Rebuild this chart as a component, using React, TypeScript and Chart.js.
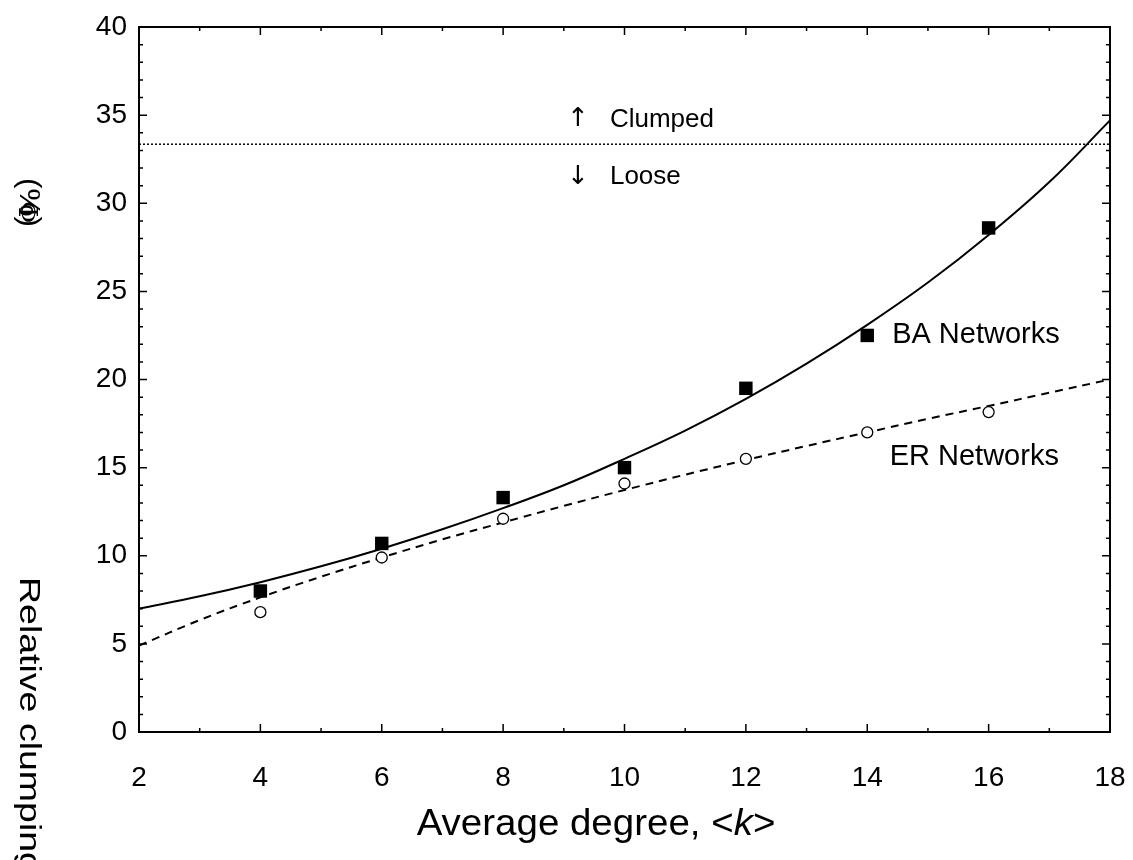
import React, { useEffect, useRef } from "react";
import { Chart, registerables } from "chart.js";

Chart.register(...registerables);

const degrees = [4, 6, 8, 10, 12, 14, 16];
const baValues = [8.0, 10.7, 13.3, 15.0, 19.5, 22.5, 28.6];
const erValues = [6.8, 9.9, 12.1, 14.1, 15.5, 17.0, 18.15];

const fitDegrees = [2, 3, 4, 5, 6, 7, 8, 9, 10, 11, 12, 13, 14, 15, 16, 17, 18];
const baFit = [7.0, 7.7, 8.5, 9.4, 10.4, 11.5, 12.7, 14.0, 15.5, 17.1, 18.9, 20.9, 23.1, 25.5, 28.2, 31.2, 34.7];
const erFit = [4.9, 6.35, 7.64, 8.81, 9.9, 10.93, 11.89, 12.83, 13.73, 14.6, 15.43, 16.23, 17.0, 17.77, 18.5, 19.25, 20.0];

const thresholdX = [2, 18];
const thresholdY = [33.35, 33.35];

const xTicks = [2, 4, 6, 8, 10, 12, 14, 16, 18];
const yTicks = [0, 5, 10, 15, 20, 25, 30, 35, 40];

const FONT = "'Liberation Sans', Arial, sans-serif";

function stretchedText(ctx: any, text: string, x: number, y: number, sx: number) {
  ctx.save();
  ctx.translate(x, y);
  ctx.scale(sx, 1);
  ctx.fillText(text, 0, 0);
  ctx.restore();
}

const framePlugin = {
  id: "frameAndText",
  afterDraw(chart: any) {
    const { ctx, chartArea: a, scales } = chart;
    const xs = scales.x;
    const ys = scales.y;
    ctx.save();
    ctx.strokeStyle = "#000";
    ctx.lineWidth = 2;
    ctx.strokeRect(a.left, a.top, a.right - a.left, a.bottom - a.top);
    ctx.lineWidth = 1.5;
    for (let v = 2; v <= 18; v++) {
      const px = xs.getPixelForValue(v);
      const len = v % 2 === 0 ? 8 : 4;
      ctx.beginPath();
      ctx.moveTo(px, a.bottom);
      ctx.lineTo(px, a.bottom - len);
      ctx.moveTo(px, a.top);
      ctx.lineTo(px, a.top + len);
      ctx.stroke();
    }
    for (let v = 0; v <= 40; v++) {
      const py = ys.getPixelForValue(v);
      const len = v % 5 === 0 ? 8 : 4;
      ctx.beginPath();
      ctx.moveTo(a.left, py);
      ctx.lineTo(a.left + len, py);
      ctx.moveTo(a.right, py);
      ctx.lineTo(a.right - len, py);
      ctx.stroke();
    }
    // annotations
    ctx.fillStyle = "#000";
    ctx.textBaseline = "middle";
    ctx.textAlign = "center";
    ctx.font = `26px 'DejaVu Sans', sans-serif`;
    ctx.fillText("\u2191", xs.getPixelForValue(9.23), ys.getPixelForValue(34.75));
    ctx.fillText("\u2193", xs.getPixelForValue(9.23), ys.getPixelForValue(31.5));
    ctx.textAlign = "left";
    ctx.font = `26px ${FONT}`;
    ctx.fillText("Clumped", xs.getPixelForValue(9.76), ys.getPixelForValue(34.75));
    ctx.fillText("Loose", xs.getPixelForValue(9.76), ys.getPixelForValue(31.5));
    ctx.font = `29px ${FONT}`;
    ctx.fillText("BA Networks", xs.getPixelForValue(14.41), ys.getPixelForValue(22.55));
    ctx.fillText("ER Networks", xs.getPixelForValue(14.37), ys.getPixelForValue(15.6));

    // x title
    const S = 1.04;
    const FS = 37;
    const t1 = "Average degree, <";
    const t2 = "k";
    const t3 = ">";
    ctx.font = `${FS}px ${FONT}`;
    const w1 = ctx.measureText(t1).width * S;
    const w3 = ctx.measureText(t3).width * S;
    ctx.font = `italic ${FS}px ${FONT}`;
    const w2 = ctx.measureText(t2).width * S;
    const total = w1 + w2 + w3;
    const sx = 596 - total / 2;
    const ty = 825;
    ctx.font = `${FS}px ${FONT}`;
    stretchedText(ctx, t1, sx, ty, S);
    ctx.font = `italic ${FS}px ${FONT}`;
    stretchedText(ctx, t2, sx + w1, ty, S);
    ctx.font = `${FS}px ${FONT}`;
    stretchedText(ctx, t3, sx + w1 + w2, ty, S);

    // y title (rotated clockwise, stretched along reading direction)
    ctx.save();
    ctx.translate(20, 577);
    ctx.rotate(Math.PI / 2);
    ctx.scale(1.25, 1);
    ctx.font = `30px ${FONT}`;
    ctx.textBaseline = "alphabetic";
    ctx.fillText("Relative clumping, ", 0, 0);
    ctx.restore();

    ctx.save();
    ctx.translate(20, 178);
    ctx.rotate(Math.PI / 2);
    ctx.scale(1.05, 1);
    ctx.font = `30px ${FONT}`;
    ctx.textBaseline = "alphabetic";
    ctx.fillText("(%)", 0, 0);
    ctx.font = `26px 'DejaVu Serif', serif`;
    ctx.fillText("\u03a6", 22, 1);
    ctx.restore();

    ctx.restore();
  },
};

export default function App() {
  const ref = useRef<HTMLCanvasElement | null>(null);
  useEffect(() => {
    document.body.style.margin = "0";
    const canvas = ref.current;
    if (!canvas) return;
    const chart = new Chart(canvas, {
      type: "scatter",
      data: {
        datasets: [
          {
            data: degrees.map((x, i) => ({ x, y: baValues[i] })),
            pointStyle: "rect",
            pointRadius: 9.5,
            backgroundColor: "#000",
            borderColor: "#000",
            borderWidth: 0,
            showLine: false,
            order: 0,
          },
          {
            data: degrees.map((x, i) => ({ x, y: erValues[i] })),
            pointStyle: "circle",
            pointRadius: 5.5,
            backgroundColor: "#fff",
            borderColor: "#000",
            borderWidth: 1.3,
            showLine: false,
            order: 1,
          },
          {
            data: fitDegrees.map((x, i) => ({ x, y: baFit[i] })),
            showLine: true,
            pointRadius: 0,
            borderColor: "#000",
            borderWidth: 2,
            tension: 0.4,
            fill: false,
            order: 3,
          },
          {
            data: fitDegrees.map((x, i) => ({ x, y: erFit[i] })),
            showLine: true,
            pointRadius: 0,
            borderColor: "#000",
            borderWidth: 2,
            borderDash: [8, 6],
            tension: 0.4,
            fill: false,
            order: 4,
          },
          {
            data: thresholdX.map((x, i) => ({ x, y: thresholdY[i] })),
            showLine: true,
            pointRadius: 0,
            borderColor: "#000",
            borderWidth: 1.5,
            borderDash: [2, 2],
            fill: false,
            order: 5,
          },
        ],
      },
      options: {
        responsive: false,
        animation: false,
        events: [],
        layout: { padding: { top: 27, right: 23, left: 0, bottom: 0 } },
        plugins: {
          legend: { display: false },
          tooltip: { enabled: false },
          title: { display: false },
        },
        scales: {
          x: {
            type: "linear",
            min: 2,
            max: 18,
            afterFit: (s: any) => {
              s.height = 128;
              s.paddingLeft = 0;
              s.paddingRight = 0;
            },
            afterBuildTicks: (s: any) => {
              s.ticks = xTicks.map((v) => ({ value: v }));
            },
            grid: { display: false, drawTicks: false },
            border: { display: false },
            ticks: {
              color: "#000",
              font: { size: 28, family: FONT },
              padding: 29,
              maxRotation: 0,
            },
          },
          y: {
            type: "linear",
            min: 0,
            max: 40,
            afterFit: (s: any) => {
              s.width = 139;
              s.paddingTop = 0;
              s.paddingBottom = 0;
            },
            afterBuildTicks: (s: any) => {
              s.ticks = yTicks.map((v) => ({ value: v }));
            },
            grid: { display: false, drawTicks: false },
            border: { display: false },
            ticks: {
              color: "#000",
              font: { size: 28, family: FONT },
              padding: 12,
            },
          },
        },
      },
      plugins: [framePlugin],
    } as any);
    return () => chart.destroy();
  }, []);
  return (
    <div style={{ position: "absolute", left: 0, top: 0, width: 1133, height: 860, background: "#fff" }}>
      <canvas ref={ref} width={1133} height={860} style={{ display: "block" }} />
    </div>
  );
}
